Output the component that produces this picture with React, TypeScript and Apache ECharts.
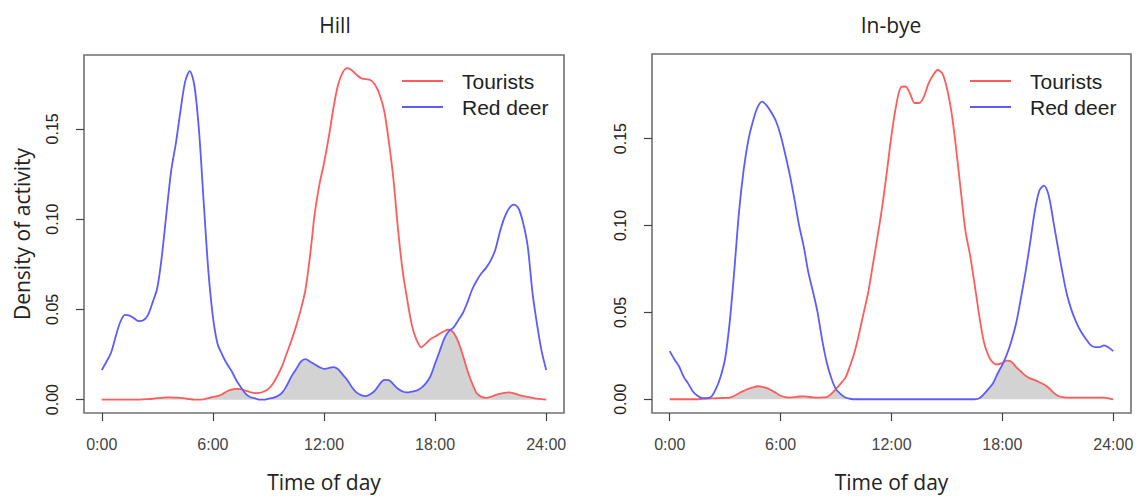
import React, { useEffect, useRef } from "react";
import * as echarts from "echarts";

// sampling grid: hour of day, every quarter hour
const hours: number[] = Array.from({ length: 97 }, (_, i) => i * 0.25);
const hourTicks = [0, 6, 12, 18, 24];
const densityTicks = [0, 0.05, 0.1, 0.15];
const panelTitles = ["Hill", "In-bye"];
const seriesNames = ["Tourists", "Red deer"];

const hillTourists = [
  0, 0, 0, 0, 0, 0, 0, 0,
  0, 0.0002, 0.0003, 0.0005, 0.0008, 0.001, 0.0012, 0.0012,
  0.0011, 0.001, 0.0007, 0.0003, 0, 0, 0.0002, 0.0008,
  0.0015, 0.002, 0.003, 0.0045, 0.0055, 0.006, 0.0058, 0.005,
  0.0042, 0.0036, 0.0037, 0.0045, 0.006, 0.009, 0.0135, 0.019,
  0.026, 0.033, 0.041, 0.05, 0.061, 0.08, 0.103, 0.119,
  0.131, 0.145, 0.161, 0.174, 0.181, 0.1836, 0.1825, 0.18,
  0.178, 0.1775, 0.177, 0.1745, 0.169, 0.16, 0.143, 0.122,
  0.094, 0.071, 0.055, 0.041, 0.033, 0.029, 0.031, 0.0335,
  0.035, 0.0365, 0.038, 0.0387, 0.037, 0.032, 0.0245, 0.016,
  0.009, 0.0035, 0.0015, 0.001, 0.0015, 0.0025, 0.0032, 0.0038,
  0.004, 0.0035, 0.0027, 0.002, 0.0015, 0.001, 0.0006, 0.0003,
  0,
];

const hillDeer = [
  0.0164, 0.021, 0.026, 0.035, 0.043, 0.047, 0.0465, 0.045,
  0.0435, 0.044, 0.047, 0.054, 0.062, 0.08, 0.104, 0.127,
  0.142, 0.16, 0.176, 0.182, 0.174, 0.149, 0.11, 0.072,
  0.046, 0.031, 0.025, 0.02, 0.016, 0.011, 0.007, 0.0035,
  0.0015, 0.0008, 0, 0, 0.0005, 0.001, 0.002, 0.004,
  0.008, 0.013, 0.017, 0.021, 0.0224, 0.021, 0.0195, 0.018,
  0.017, 0.0175, 0.018, 0.017, 0.014, 0.011, 0.007, 0.004,
  0.0025, 0.002, 0.003, 0.005, 0.0085, 0.011, 0.0108, 0.0085,
  0.006, 0.0045, 0.004, 0.0045, 0.005, 0.0065, 0.009, 0.013,
  0.02, 0.027, 0.034, 0.038, 0.04, 0.044, 0.048, 0.054,
  0.061, 0.066, 0.07, 0.073, 0.077, 0.083, 0.093, 0.101,
  0.106, 0.108, 0.106, 0.098, 0.085, 0.06, 0.042, 0.027,
  0.0164,
];

const inbyeTourists = [
  0, 0, 0, 0, 0, 0, 0, 0.0003,
  0.0004, 0.0005, 0.0006, 0.0007, 0.0008, 0.001, 0.002, 0.0035,
  0.0048, 0.006, 0.0068, 0.0075, 0.0072, 0.0064, 0.0052, 0.0036,
  0.002, 0.0012, 0.001, 0.0012, 0.0016, 0.0017, 0.0014, 0.0011,
  0.001, 0.0011, 0.0013, 0.0032, 0.006, 0.009, 0.0123, 0.019,
  0.027, 0.038, 0.05, 0.062, 0.078, 0.094, 0.111, 0.131,
  0.152, 0.169, 0.1795, 0.18, 0.176, 0.1705, 0.1705, 0.174,
  0.1817, 0.1865, 0.1895, 0.1875, 0.179, 0.165, 0.144, 0.12,
  0.097, 0.083, 0.066, 0.048, 0.033, 0.025, 0.021, 0.02,
  0.021, 0.0222, 0.0215, 0.0185, 0.016, 0.0135, 0.012, 0.011,
  0.0098, 0.0085, 0.0066, 0.004, 0.002, 0.0012, 0.001, 0.001,
  0.001, 0.001, 0.001, 0.001, 0.001, 0.001, 0.001, 0.0005,
  0,
];

const inbyeDeer = [
  0.0277, 0.023, 0.019, 0.013, 0.009, 0.0045, 0.002, 0.0007,
  0.0006, 0.0015, 0.006, 0.013, 0.0236, 0.045, 0.075, 0.108,
  0.132, 0.149, 0.16, 0.168, 0.1713, 0.169, 0.165, 0.16,
  0.152, 0.141, 0.129, 0.115, 0.1, 0.088, 0.073, 0.062,
  0.05, 0.034, 0.021, 0.012, 0.0057, 0.003, 0.001, 0.0003,
  0, 0, 0, 0, 0, 0, 0, 0,
  0, 0, 0, 0, 0, 0, 0, 0,
  0, 0, 0, 0, 0, 0, 0, 0,
  0, 0, 0, 0.0006, 0.003, 0.006, 0.0094, 0.015,
  0.02, 0.026, 0.034, 0.044, 0.058, 0.073, 0.09, 0.108,
  0.12, 0.123, 0.1175, 0.103, 0.0877, 0.073, 0.06, 0.051,
  0.0443, 0.039, 0.035, 0.0315, 0.03, 0.03, 0.031, 0.0298,
  0.0277,
];

const panels = [
  { tourists: hillTourists, deer: hillDeer },
  { tourists: inbyeTourists, deer: inbyeDeer },
];

const RED = "#ff5c5c";
const BLUE = "#5c5cff";
const SMOOTH = 0.3;

export default function App() {
  const ref = useRef<HTMLDivElement>(null);

  useEffect(() => {
    const chart = echarts.init(ref.current!, null, { renderer: "svg" });

    const gridPos = [
      { left: 84, top: 55, width: 480, height: 364 },
      { left: 652, top: 54, width: 479, height: 365 },
    ];
    const yRanges = [
      { min: -0.0074, max: 0.1909 },
      { min: -0.0079, max: 0.1987 },
    ];
    const titleX = [335, 891];
    const legendLeft = [402, 970];

    const series: any[] = [];
    panels.forEach((p, k) => {
      series.push({
        type: "line",
        xAxisIndex: k,
        yAxisIndex: k,
        data: hours.map((h, i) => [h, Math.min(p.tourists[i], p.deer[i])]),
        symbol: "none",
        smooth: SMOOTH,
        lineStyle: { width: 0 },
        areaStyle: { color: "#d3d3d3", opacity: 1 },
        silent: true,
        z: 1,
      });
      series.push({
        type: "line",
        name: seriesNames[0],
        xAxisIndex: k,
        yAxisIndex: k,
        data: hours.map((h, i) => [h, p.tourists[i]]),
        symbol: "none",
        smooth: SMOOTH,
        color: RED,
        lineStyle: { color: RED, width: 1.8 },
        z: 3,
      });
      series.push({
        type: "line",
        name: seriesNames[1],
        xAxisIndex: k,
        yAxisIndex: k,
        data: hours.map((h, i) => [h, p.deer[i]]),
        symbol: "none",
        smooth: SMOOTH,
        color: BLUE,
        lineStyle: { color: BLUE, width: 1.8 },
        z: 3,
      });
    });

    const option: any = {
      animation: false,
      backgroundColor: "#ffffff",
      grid: gridPos.map((g) => ({
        ...g,
        show: true,
        borderColor: "#707070",
        borderWidth: 1.6,
        backgroundColor: "transparent",
        containLabel: false,
      })),
      xAxis: [0, 1].map((k) => ({
        type: "value",
        gridIndex: k,
        min: -0.96,
        max: 24.96,
        axisLine: { show: false, onZero: false },
        axisTick: {
          show: true,
          customValues: hourTicks,
          length: 8,
          lineStyle: { color: "#444", width: 1.2 },
        },
        axisLabel: {
          customValues: hourTicks,
          formatter: (v: number) => `${v}:00`,
          margin: 23,
          fontSize: 16,
          fontFamily: "Liberation Sans",
          color: "#444",
        },
        splitLine: { show: false },
        name: "Time of day",
        nameLocation: "middle",
        nameGap: 58,
        nameTextStyle: { fontSize: 21, fontFamily: "Open Sans", color: "#222" },
      })),
      yAxis: [0, 1].map((k) => ({
        type: "value",
        gridIndex: k,
        min: yRanges[k].min,
        max: yRanges[k].max,
        axisLine: { show: false, onZero: false },
        axisTick: {
          show: true,
          customValues: densityTicks,
          length: 8,
          lineStyle: { color: "#444", width: 1.2 },
        },
        axisLabel: {
          customValues: densityTicks,
          formatter: (v: number) => v.toFixed(2),
          rotate: 90,
          margin: 24,
          fontSize: 16,
          fontFamily: "Liberation Sans",
          color: "#222",
        },
        splitLine: { show: false },
        name: k === 0 ? "Density of activity" : "",
        nameLocation: "middle",
        nameGap: 52,
        nameTextStyle: { fontSize: 21, fontFamily: "Open Sans", color: "#222" },
      })),
      legend: [0, 1].map((k) => ({
        data: seriesNames,
        orient: "vertical",
        left: legendLeft[k],
        top: 70,
        padding: 0,
        icon: "rect",
        itemWidth: 41,
        itemHeight: 2,
        itemGap: 4,
        textStyle: {
          fontSize: 21,
          fontFamily: "Liberation Sans",
          color: "#222",
          lineHeight: 22,
          padding: [0, 0, 0, 14],
        },
      })),
      graphic: panelTitles.map((t, k) => ({
        type: "text",
        x: titleX[k],
        y: 25,
        style: {
          text: t,
          fontSize: 21,
          fontFamily: "Open Sans",
          fill: "#222",
          textAlign: "center",
          textVerticalAlign: "middle",
        },
      })),
      series,
    };

    chart.setOption(option);
    return () => chart.dispose();
  }, []);

  return (
    <div
      ref={ref}
      style={{ position: "absolute", left: 0, top: 0, width: 1139, height: 497 }}
    />
  );
}
